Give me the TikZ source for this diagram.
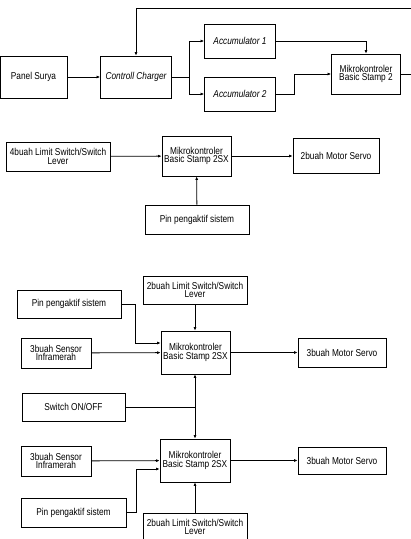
\documentclass[tikz,border=0pt]{standalone}
\usepackage{fontspec}
\setmainfont{Liberation Sans}[FakeStretch=0.83]
\usetikzlibrary{arrows.meta}

\tikzset{
  blk/.style={draw, line width=0.8pt, inner sep=1pt, align=center,
    font=\fontsize{10}{8.5}\selectfont},
  arr/.style={line width=0.8pt, -{Latex[length=3.5pt,width=3pt]}},
  ln/.style={line width=0.8pt},
}

\begin{document}
\begin{tikzpicture}[x=1pt, y=-1pt]
    \useasboundingbox (0,0) rectangle (411,539);
    % power supply chain
    \node[blk, minimum width=67pt, minimum height=42pt] (panel) at (33.5,77) {Panel Surya};
    \node[blk, minimum width=71pt, minimum height=42pt] (charger) at (136,77) {\itshape Controll Charger};
    \node[blk, minimum width=71pt, minimum height=34pt] (accA) at (240,41) {\itshape Accumulator 1};
    \node[blk, minimum width=71pt, minimum height=34pt] (accB) at (240,94) {\itshape Accumulator 2};
    \node[blk, minimum width=69pt, minimum height=40pt] (mkA) at (366,74) {Mikrokontroler\\Basic Stamp 2};
    \draw[arr] (panel) -- (charger);
    \draw[ln] (charger.east) -- ++(17,0) coordinate (split);
    \draw[arr] (split) |- (accA);
    \draw[arr] (split) |- (accB);
    \draw[arr] (accA.east) -| (mkA.north);
    \draw[arr] (accB.east) -- ++(18,0) |- (mkA.west);
    \draw[arr] (mkA.east) -- ++(20,0) coordinate (loopR) -- (loopR |- 0,8) -| (charger.north);

    % first controller
    \node[blk, minimum width=104pt, minimum height=29pt] (limA) at (58,156.5) {4buah Limit Switch/Switch\\Lever};
    \node[blk, minimum width=69pt, minimum height=40pt] (mkB) at (196.5,156) {Mikrokontroler\\Basic Stamp 2SX};
    \node[blk, minimum width=86pt, minimum height=35pt] (servoA) at (336,156) {2buah Motor Servo};
    \node[blk, minimum width=104pt, minimum height=29pt] (pinA) at (197,219.5) {Pin pengaktif sistem};
    \draw[arr] (limA) -- (mkB);
    \draw[arr] (mkB) -- (servoA);
    \draw[arr] (pinA) -- (mkB);

    % second controller
    \node[blk, minimum width=104pt, minimum height=28pt] (limB) at (195,290) {2buah Limit Switch/Switch\\Lever};
    \node[blk, minimum width=104pt, minimum height=28pt] (pinB) at (69,304) {Pin pengaktif sistem};
    \node[blk, minimum width=70pt, minimum height=30pt] (sensA) at (56,353) {3buah Sensor\\Inframerah};
    \node[blk, minimum width=69pt, minimum height=43pt] (mkC) at (195.5,352.5) {Mikrokontroler\\Basic Stamp 2SX};
    \node[blk, minimum width=88pt, minimum height=29pt] (servoB) at (342,352.5) {3buah Motor Servo};
    \draw[arr] (limB) -- (limB |- mkC.north);
    \draw[arr] (pinB.east) -- ++(14,0) |- ([yshift=9.5pt]mkC.west);
    \draw[arr] (sensA) -- (mkC);
    \draw[arr] (mkC) -- (servoB);

    % shared switch
    \node[blk, minimum width=103pt, minimum height=28pt] (sw) at (73.5,407) {Switch ON/OFF};
    \draw[ln] (sw.east) -- (sw.east -| limB) coordinate (swJ);
    \draw[arr] (swJ) -- (swJ |- mkC.south);

    % third controller
    \node[blk, minimum width=70pt, minimum height=43pt] (mkD) at (195,460.5) {Mikrokontroler\\Basic Stamp 2SX};
    \node[blk, minimum width=70pt, minimum height=30pt] (sensB) at (56,461) {3buah Sensor\\Inframerah};
    \node[blk, minimum width=88pt, minimum height=27pt] (servoC) at (342,460.5) {3buah Motor Servo};
    \node[blk, minimum width=105pt, minimum height=29pt] (pinC) at (73.5,512.5) {Pin pengaktif sistem};
    \node[blk, minimum width=104pt, minimum height=28pt] (limC) at (195,527) {2buah Limit Switch/Switch\\Lever};
    \draw[arr] (swJ) -- (mkD.north);
    \draw[arr] (sensB) -- (mkD);
    \draw[arr] (mkD) -- (servoC);
    \draw[arr] (pinC.east) -- ++(10,0) |- ([yshift=-8.5pt]mkD.west);
    \draw[arr] (limC) -- (mkD);
\end{tikzpicture}
\end{document}
